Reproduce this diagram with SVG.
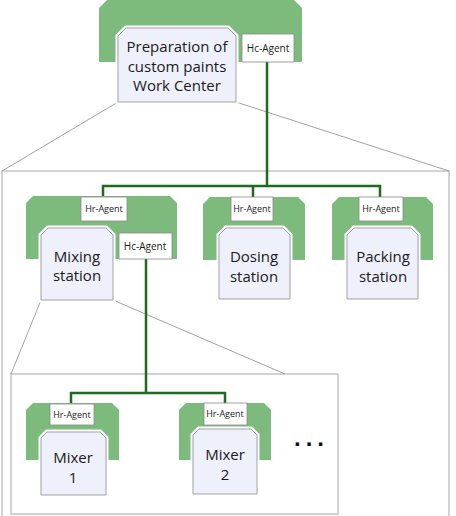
<svg xmlns="http://www.w3.org/2000/svg" width="456" height="516" viewBox="0 0 456 516">
<style>
.frame{fill:none;stroke:#c4c4c4;stroke-width:1.5}
.persp{fill:none;stroke:#8a8a8a;stroke-width:0.8}
.green{fill:#7dbb7d}
.halo{fill:none;stroke:#ffffff;stroke-width:5;stroke-linejoin:miter}
.box{fill:#eef0fb;stroke:#a3a3a3;stroke-width:1}
.agent{fill:#ffffff;stroke:#8a8a8a;stroke-width:0.8}
.conn{fill:none;stroke:#1f6a1f;stroke-width:2.5}
.lbl{font-family:"Open Sans","Noto Sans",sans-serif;fill:#1a1a1a;text-anchor:middle}
.big{font-size:15px}
.sm{font-size:9px}
.hc{font-size:10px}
</style>
<rect width="456" height="516" fill="#ffffff"/>
<g id="frames">
<rect class="frame" x="2" y="171" width="447" height="350"/>
<rect class="frame" x="11" y="374" width="327" height="140"/>
<line class="persp" x1="118" y1="102" x2="2" y2="171"/>
<line class="persp" x1="236" y1="102" x2="449" y2="171"/>
<line class="persp" x1="41" y1="300" x2="11" y2="374"/>
<line class="persp" x1="113" y1="300" x2="285" y2="374"/>
</g>
<g id="connectors">
<polyline class="conn" points="267,62 267,186"/>
<polyline class="conn" points="103,197 103,186 380,186 380,197"/>
<polyline class="conn" points="253,186 253,197"/>
<polyline class="conn" points="146,259 146,393"/>
<polyline class="conn" points="71,403 71,393 225,393 225,403"/>
</g>
<g id="work-center">
<polygon class="green" points="107,0 294,0 302,8 302,62 99,62 99,8"/>
<path class="halo" d="M118,102 V36 L126,28 H228 L236,36 V102 Z"/>
<path class="box" d="M118,102 V36 L126,28 H228 L236,36 V102 Z"/>
<rect class="agent" x="242" y="34" width="52" height="28"/>
<text class="lbl hc" x="268" y="52">Hc-Agent</text>
<text class="lbl big" x="177" y="52">Preparation of</text>
<text class="lbl big" x="177" y="72">custom paints</text>
<text class="lbl big" x="177" y="91">Work Center</text>
</g>
<g id="mixing-station">
<polygon class="green" points="33,196 170,196 177,203 177,259 26,259 26,203"/>
<path class="halo" d="M41,300 V235 L48,228 H106 L113,235 V300 Z"/>
<path class="box" d="M41,300 V235 L48,228 H106 L113,235 V300 Z"/>
<rect class="agent" x="81" y="197" width="46" height="24"/>
<text class="lbl sm" x="104" y="212">Hr-Agent</text>
<rect class="agent" x="119" y="233" width="53" height="26"/>
<text class="lbl hc" x="145" y="250">Hc-Agent</text>
<text class="lbl big" x="77" y="262">Mixing</text>
<text class="lbl big" x="77" y="281">station</text>
</g>
<g id="dosing-station">
<polygon class="green" points="210,197 298,197 305,204 305,260 203,260 203,204"/>
<path class="halo" d="M219,299 V235 L226,228 H283 L290,235 V299 Z"/>
<path class="box" d="M219,299 V235 L226,228 H283 L290,235 V299 Z"/>
<rect class="agent" x="231" y="197" width="42" height="24"/>
<text class="lbl sm" x="252" y="212">Hr-Agent</text>
<text class="lbl big" x="254" y="262">Dosing</text>
<text class="lbl big" x="254" y="282">station</text>
</g>
<g id="packing-station">
<polygon class="green" points="339,197 426,197 433,204 433,260 332,260 332,204"/>
<path class="halo" d="M347,299 V235 L354,228 H411 L418,235 V299 Z"/>
<path class="box" d="M347,299 V235 L354,228 H411 L418,235 V299 Z"/>
<rect class="agent" x="359" y="197" width="44" height="24"/>
<text class="lbl sm" x="381" y="212">Hr-Agent</text>
<text class="lbl big" x="383" y="262">Packing</text>
<text class="lbl big" x="383" y="282">station</text>
</g>
<g id="mixer-1">
<polygon class="green" points="33,403 112,403 119,410 119,460 26,460 26,410"/>
<path class="halo" d="M41,495 V438 L47,432 H100 L106,438 V495 Z"/>
<path class="box" d="M41,495 V438 L47,432 H100 L106,438 V495 Z"/>
<rect class="agent" x="50" y="404" width="44" height="21"/>
<text class="lbl sm" x="72" y="418">Hr-Agent</text>
<text class="lbl big" x="73" y="463">Mixer</text>
<text class="lbl big" x="73" y="483">1</text>
</g>
<g id="mixer-2">
<polygon class="green" points="186,403 264,403 271,410 271,460 179,460 179,410"/>
<path class="halo" d="M193,494 V435 L199,429 H251 L257,435 V494 Z"/>
<path class="box" d="M193,494 V435 L199,429 H251 L257,435 V494 Z"/>
<rect class="agent" x="204" y="403" width="43" height="22"/>
<text class="lbl sm" x="225" y="417">Hr-Agent</text>
<text class="lbl big" x="225" y="460">Mixer</text>
<text class="lbl big" x="225" y="480">2</text>
</g>
<g id="ellipsis">
<text x="294" y="446" font-family="Liberation Sans, sans-serif" font-weight="bold" font-size="24" letter-spacing="5" fill="#111">...</text>
</g>
</svg>
